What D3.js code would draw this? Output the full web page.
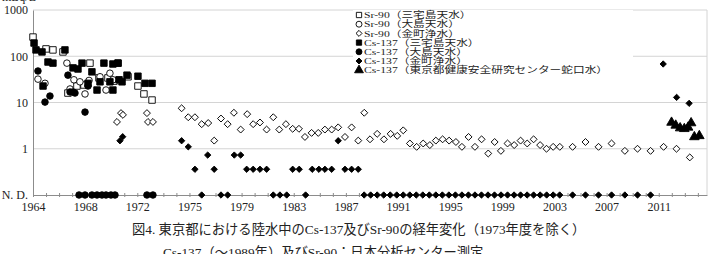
<!DOCTYPE html>
<html>
<head>
<meta charset="utf-8">
<script src="https://cdn.jsdelivr.net/npm/d3@7"></script>
<style>
body { margin: 0; background: #fff; }
text { font-family: "Liberation Serif", "Noto Sans CJK JP", serif; fill: #222; }
</style>
</head>
<body>
<script>
//Axis positions (one slot per year on the category axis) and their labels
var tickSlots = [0, 4, 8, 12, 16, 20, 24, 28, 32, 36, 40, 44, 48];
var tickLabels = ["1964", "1968", "1972", "1975", "1979", "1983", "1987", "1991", "1995", "1999", "2003", "2007", "2011"];
var yTicks = [0.1, 1, 10, 100, 1000];
var yLabels = ["N. D.", "1", "10", "100", "1000"];
var ndLevel = 0.1;

//Series: [slot, mBq/L]
var srMiyake = [[0, 260], [1.0, 144], [1.53, 137], [2.3, 124], [2.68, 16], [3.37, 22.7], [3.91, 23.9], [4.37, 71],
    [5.06, 34], [5.75, 34], [6.21, 29], [6.52, 71], [7.29, 36], [8.05, 22.7], [8.51, 15.3], [9.13, 11.3]];
var srOshima = [[0.38, 32], [0.92, 26], [2.6, 71], [2.84, 19.6], [3.14, 31], [3.6, 28], [3.99, 15.3], [4.3, 30],
    [5.14, 36], [5.6, 18.6], [5.9, 43], [6.13, 31]];
var srKanamachi = [[6.44, 3.8], [6.75, 5.9], [6.9, 5.4], [8.74, 5.9], [8.82, 3.8], [9.2, 3.8],
    [11.4, 7.5], [11.91, 4.8], [12.42, 4.8], [12.94, 3.4], [13.44, 3.6], [13.9, 1.5], [14.42, 4.5], [14.93, 3.4],
    [15.41, 6.0], [15.93, 2.6], [16.43, 5.6], [16.89, 3.4], [17.41, 3.7], [17.92, 2.6], [18.43, 4.8], [18.89, 2.6],
    [19.4, 3.4], [19.92, 2.7], [20.4, 2.7], [20.86, 1.8], [21.37, 2.2], [21.88, 2.2], [22.39, 2.6], [22.91, 2.6],
    [23.41, 2.9], [23.93, 1.8], [24.44, 2.9], [24.95, 1.5], [25.41, 6.0], [25.85, 1.6], [26.4, 2.1], [26.92, 1.6],
    [27.43, 2.1], [27.94, 1.9], [28.4, 2.5], [28.91, 1.3], [29.43, 1.1], [29.93, 1.3], [30.44, 1.2], [30.9, 1.5],
    [31.42, 1.6], [31.92, 1.5], [32.44, 1.4], [32.9, 1.1], [33.41, 1.8], [33.9, 1.1], [34.41, 1.6], [34.92, 0.79],
    [35.41, 1.4], [35.89, 0.9], [36.4, 1.3], [36.91, 1.2], [37.4, 1.5], [37.91, 1.3], [38.4, 1.6], [38.9, 1.2],
    [39.39, 1.0], [39.9, 1.1], [40.41, 1.1], [41.39, 1.1], [42.38, 1.4], [43.38, 1.1], [44.38, 1.3], [45.4, 0.9],
    [46.37, 1.0], [47.37, 0.9], [48.37, 1.1], [49.36, 1.0], [50.38, 0.65]];
var csMiyake = [[0.08, 193], [0.23, 137], [0.69, 124], [0.77, 22.7], [1.15, 75], [1.53, 71], [2.45, 137], [3.07, 56],
    [3.45, 53], [3.76, 71], [4.22, 26], [4.52, 46], [4.91, 18.6], [5.14, 28], [5.44, 71], [5.9, 28], [6.13, 68],
    [6.13, 18.6], [6.52, 71], [6.6, 31], [6.83, 28], [7.21, 39], [8.05, 37], [8.59, 26], [9.13, 26]];
var csOshima = [[0.38, 48], [0.92, 10.2], [1.3, 13.8], [2.68, 39], [2.84, 16.9], [3.07, 16.9], [3.22, 16],
    [3.99, 6.2], [4.22, 22.7]];
var csOshimaND = [3.53, 3.99, 4.52, 4.91, 5.29, 5.6, 5.98, 6.29, 8.74, 9.2];
var csKanamachi = [[6.67, 1.49], [6.88, 1.82], [11.4, 1.49], [11.91, 1.1], [12.42, 0.36], [13.4, 0.73], [13.9, 0.36],
    [15.44, 0.73], [15.93, 0.73], [16.39, 0.36], [16.89, 0.36], [17.41, 0.36], [17.92, 0.36], [19.92, 0.36],
    [20.42, 0.36], [21.42, 0.36], [21.93, 0.36], [22.39, 0.36], [22.91, 0.36], [23.41, 1.49], [23.93, 0.36],
    [24.44, 0.36], [24.95, 0.36], [48.34, 68], [49.37, 12.9], [50.33, 9.6]];
var csKanamachiND = [12.94, 14.42, 14.93, 18.43, 18.94, 19.46, 20.91,
    25.4, 25.9, 26.4, 26.9, 27.4, 27.9, 28.4, 28.9, 29.4, 29.9, 30.4, 30.9, 31.4, 31.9, 32.4, 32.9,
    33.4, 33.9, 34.4, 34.9, 35.4, 35.9, 36.4, 36.9, 37.4, 37.9, 38.4, 38.9, 39.4, 39.9, 40.4,
    41.39, 42.38, 43.38, 44.38, 45.4, 46.37, 47.37];
var csCenter = [[48.98, 3.7], [49.3, 3.2], [49.64, 2.8], [49.96, 2.7], [50.25, 2.9], [50.48, 3.6], [50.73, 1.8], [51.11, 1.9]];

var legendNames = ["Sr-90（三宅島天水）", "Sr-90（大島天水）", "Sr-90（金町浄水）", "Cs-137（三宅島天水）",
    "Cs-137（大島天水）", "Cs-137（金町浄水）", "Cs-137（東京都健康安全研究センター蛇口水）"];
var caption1 = "図4. 東京都における陸水中のCs-137及びSr-90の経年変化（1973年度を除く）";
var caption2 = "Cs-137（～1989年）及びSr-90：日本分析センター測定";

//SVG
var w = 713;
var h = 254;
var plotLeft = 33, plotRight = 707, plotTop = 10, plotBottom = 195;
var gridColor = "#d4d4d4";
var axisColor = "#8c8c8c";

var svg = d3.select("body").append("svg")
    .attr("width", w)
    .attr("height", h);

var x = d3.scaleLinear().domain([0, 51.7]).range([plotLeft, plotRight]);
var y = d3.scaleLog().domain([ndLevel, 1000]).range([plotBottom, plotTop]);

//Grid lines and frame
svg.selectAll(".grid")
    .data(yTicks.slice(1))
    .enter().append("line")
    .attr("x1", plotLeft).attr("x2", plotRight)
    .attr("y1", function (d) { return y(d); })
    .attr("y2", function (d) { return y(d); })
    .attr("stroke", gridColor)
    .attr("stroke-width", 1);
svg.append("line")
    .attr("x1", plotRight).attr("x2", plotRight).attr("y1", plotTop).attr("y2", plotBottom)
    .attr("stroke", gridColor);

//Y axis
var yAxis = d3.axisLeft(y)
    .tickValues(yTicks)
    .tickFormat(function (d, i) { return yLabels[i]; })
    .tickSize(0)
    .tickPadding(5);
var gy = svg.append("g")
    .attr("transform", "translate(" + plotLeft + ",0)")
    .call(yAxis);
gy.select(".domain").attr("stroke", axisColor);
gy.selectAll("text").style("font-size", "12px");

//X axis with a minor tick every slot
var gxMinor = svg.append("g")
    .attr("transform", "translate(0," + plotBottom + ")")
    .call(d3.axisBottom(x).tickValues(d3.range(0, 52)).tickSize(3).tickFormat(""));
gxMinor.selectAll(".tick line").attr("stroke", axisColor).attr("y1", -2).attr("y2", 2);
gxMinor.select(".domain").remove();

var gx = svg.append("g")
    .attr("transform", "translate(0," + plotBottom + ")")
    .call(d3.axisBottom(x)
        .tickValues(tickSlots)
        .tickFormat(function (d, i) { return tickLabels[i]; })
        .tickSize(0)
        .tickPadding(7));
gx.select(".domain").attr("stroke", axisColor);
gx.selectAll("text").style("font-size", "12px");

//Unit label (cut at the top edge)
svg.append("text")
    .attr("x", 2)
    .attr("y", 1)
    .style("font-size", "12px")
    .text("mBq/L");

//Markers
var square = d3.symbol().type(d3.symbolSquare).size(42);
var circle = d3.symbol().type(d3.symbolCircle).size(34);
var diamondOpen = d3.symbol().type(d3.symbolSquare).size(24);
var diamondFill = d3.symbol().type(d3.symbolSquare).size(20);
var triangle = d3.symbol().type(d3.symbolTriangle).size(40);

var styles = [
    { sym: square, fill: "white", rot: 0 },
    { sym: circle, fill: "white", rot: 0 },
    { sym: diamondOpen, fill: "white", rot: 45 },
    { sym: square, fill: "black", rot: 0 },
    { sym: circle, fill: "black", rot: 0 },
    { sym: diamondFill, fill: "black", rot: 45 },
    { sym: triangle, fill: "black", rot: 0 }
];

function plot(data, st) {
    svg.append("g").selectAll("path")
        .data(data)
        .enter().append("path")
        .attr("d", st.sym())
        .attr("transform", function (d) {
            return "translate(" + x(d[0]) + "," + y(d[1]) + ") rotate(" + st.rot + ")";
        })
        .attr("fill", st.fill)
        .attr("stroke", "black")
        .attr("stroke-width", 0.9);
}

plot(srMiyake, styles[0]);
plot(srOshima, styles[1]);
plot(srKanamachi, styles[2]);
plot(csMiyake, styles[3]);
plot(csOshima, styles[4]);
plot(csOshimaND.map(function (t) { return [t, ndLevel]; }), styles[4]);
plot(csKanamachi, styles[5]);
plot(csKanamachiND.map(function (t) { return [t, ndLevel]; }), styles[5]);
plot(csCenter, styles[6]);

//Legend
var legend = svg.append("g").attr("transform", "translate(353,10)");
legend.append("rect")
    .attr("width", 280)
    .attr("height", 66)
    .attr("fill", "white");
var item = legend.selectAll(".item")
    .data(legendNames)
    .enter().append("g")
    .attr("transform", function (d, i) { return "translate(0," + (5 + i * 9.2) + ")"; });
item.append("path")
    .attr("d", function (d, i) { return d3.symbol().type(i === 6 ? d3.symbolTriangle : [d3.symbolSquare, d3.symbolCircle, d3.symbolSquare][i % 3]).size(i === 6 ? 34 : (i % 3 === 2 ? 18 : 28))(); })
    .attr("transform", function (d, i) { return "translate(6,0) rotate(" + styles[i].rot + ")"; })
    .attr("fill", function (d, i) { return styles[i].fill; })
    .attr("stroke", "black")
    .attr("stroke-width", 0.9);
item.append("text")
    .attr("transform", "translate(11,0) scale(1.3,1)")
    .attr("dy", "0.35em")
    .style("font-size", "9px")
    .text(function (d) { return d; });

//Caption
svg.append("text")
    .attr("x", 132)
    .attr("y", 234)
    .style("font-size", "13.3px")
    .text(caption1);
svg.append("text")
    .attr("x", 163)
    .attr("y", 257)
    .style("font-size", "13.3px")
    .text(caption2);
</script>
</body>
</html>
